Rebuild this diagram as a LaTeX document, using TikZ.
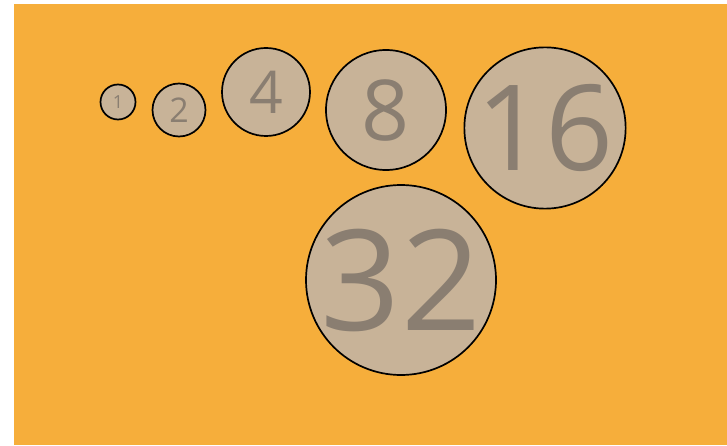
\documentclass[tikz,border=0pt]{standalone}
\usepackage{fontspec}
\setmainfont{Open Sans}
\usetikzlibrary{positioning}

\definecolor{backdrop}{HTML}{F6AE3B}
\definecolor{ballfill}{HTML}{C8B398}
\definecolor{digitgray}{HTML}{8A7E71}
\newcommand{\digitsize}[1]{\fontsize{#1}{#1}\selectfont}

\begin{document}
\begin{tikzpicture}[
  x=1pt, y=-1pt,
  ball/.style = {circle, draw=black, line width=1.7pt, fill=ballfill,
                 text=digitgray, inner sep=0pt},
]
  \useasboundingbox (0,0) rectangle (727,446);
  \fill[backdrop] (14,4) rectangle (727,445);

  \node[ball, minimum size=35pt,  font=\digitsize{18}]  (one)       at (118,102) {1};
  \node[ball, minimum size=53pt,  font=\digitsize{34}]  (two)       at (179,110) {2};
  \node[ball, minimum size=88pt,  font=\digitsize{59}]  (four)      at (266,92)  {4};
  \node[ball, minimum size=120pt, font=\digitsize{84}]  (eight)     at (386,110) {8};
  \node[ball, minimum size=157pt, font=\digitsize{119}] (sixteen)   at (545,128) {16};
  \node[ball, minimum size=190pt, font=\digitsize{140}] (thirtytwo) at (401,280) {32};
\end{tikzpicture}
\end{document}
